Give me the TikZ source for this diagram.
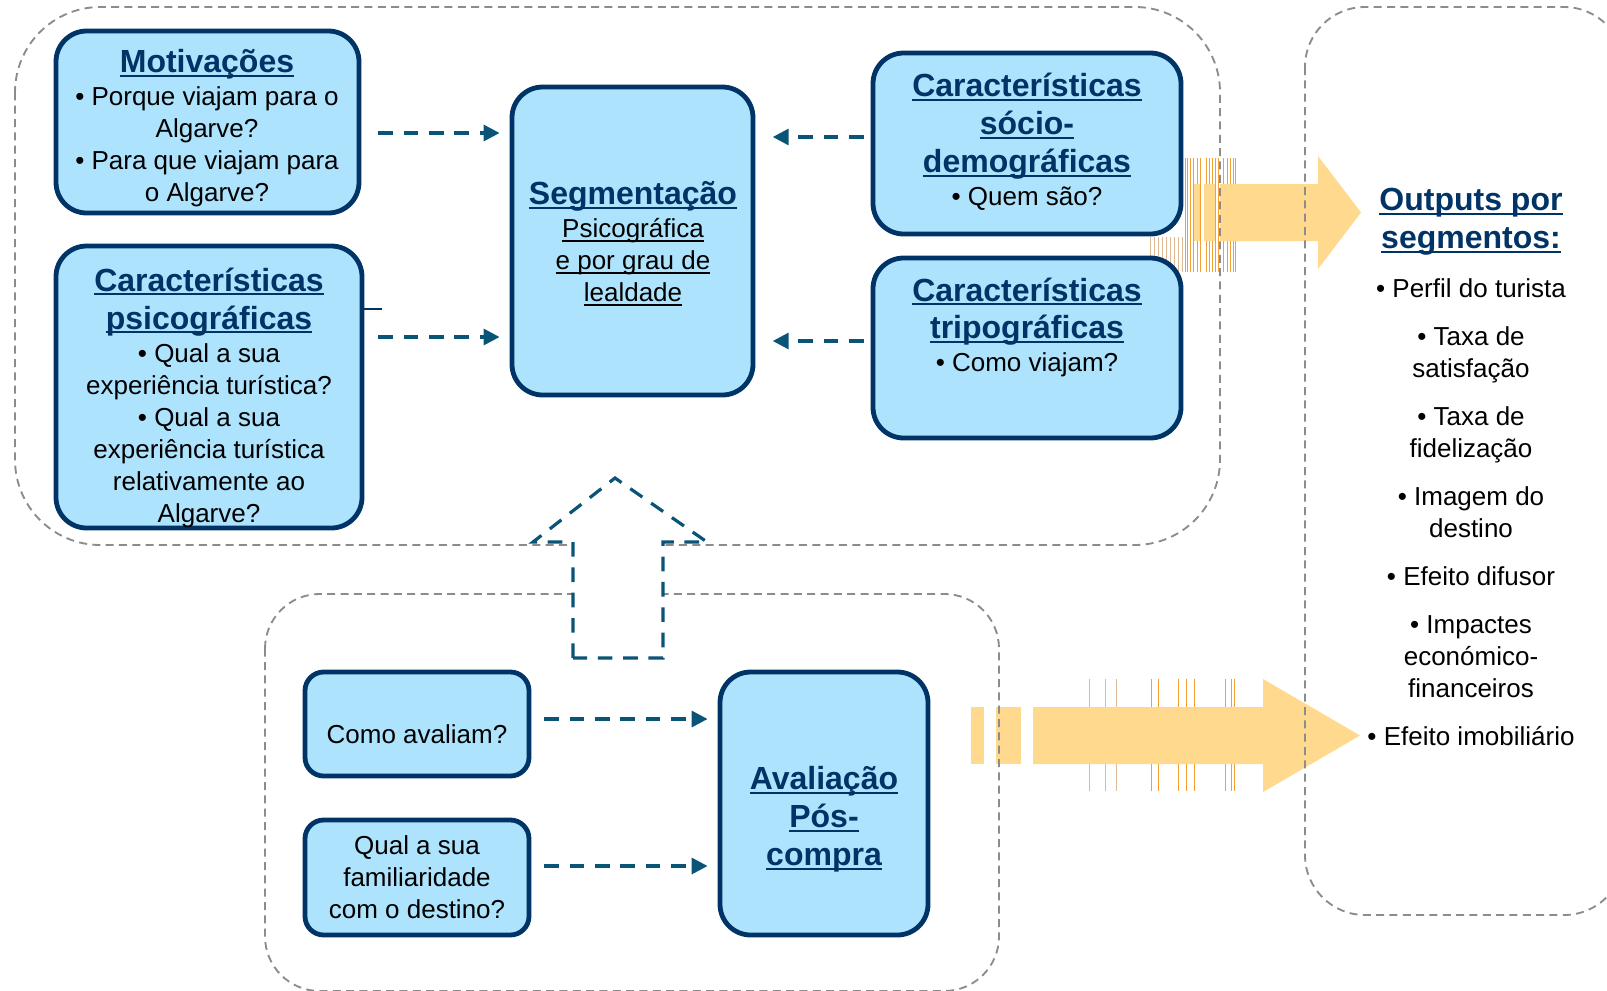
\documentclass[tikz,border=0pt]{standalone}
\usepackage{fontspec}
\setmainfont{Liberation Sans}
\usetikzlibrary{arrows.meta,calc}

\definecolor{navy}{RGB}{0,51,102}
\definecolor{boxfill}{RGB}{173,227,252}
\definecolor{flow}{RGB}{10,84,120}
\definecolor{frame}{RGB}{140,140,140}
\definecolor{bigarrow}{RGB}{254,217,142}
\definecolor{streak}{RGB}{245,160,50}
\definecolor{streaklight}{RGB}{222,185,150}

% underline drawn as a rule under the word, thickness as optional argument
\newcommand\ulx[2][1.5pt]{\setbox0=\hbox{#2}\rlap{\rule[-3.3pt]{\wd0}{#1}}\box0}
\newcommand\ttl[1]{{\fontsize{24}{28.5}\selectfont\bfseries\color{navy}\ulx{#1}}}
\newcommand\uls[1]{\ulx[0.9pt]{#1}}

\begin{document}
\begin{tikzpicture}[x=0.75pt, y=-0.75pt,
  box/.style={draw=navy, line width=3.6pt, fill=boxfill, rounded corners=23pt, inner sep=0pt},
  smallbox/.style={box, rounded corners=14pt},
  txt/.style={align=center, font=\fontsize{19.5}{24}\selectfont, inner sep=0pt},
  conn/.style={draw=flow, line width=2.4pt, dash pattern=on 11pt off 8pt,
    -{Triangle[length=12pt,width=12pt]}, shorten >=7.5pt},
  connlong/.style={conn, shorten >=13pt},
  group/.style={draw=frame, line width=1.4pt, dash pattern=on 6pt off 4pt},
  streakline/.style={draw=streak, line width=0.6pt},
  streakpale/.style={draw=streaklight, line width=0.6pt}]

\path[use as bounding box] (0,0) rectangle (1607,990);
\clip (0,0) rectangle (1607,990);

% streaks around the wide arrows
\foreach \x in {1185,1187.5,1190,1193,1197,1200,1206,1209,1212,1215,1218,1223,1227,1230,1233,1235}
  \draw[streakline] (\x,158) -- (\x,272);
\foreach \x in {1150,1154,1158,1162,1166,1170,1174,1178,1182}
  \draw[streakpale] (\x,237) -- (\x,272);
\foreach \x in {1089,1105,1116}
  \draw[streakpale] (\x,679) -- (\x,791);
\foreach \x in {1151,1158,1178,1186,1194,1225,1231,1234}
  \draw[streakline] (\x,679) -- (\x,791);

% wide yellow arrow towards the outputs (top)
\fill[bigarrow] (1194,184) rectangle (1200,241);
\fill[bigarrow] (1204,184) rectangle (1215,241);
\fill[bigarrow] (1220,184) -- (1318,184) -- (1318,156) -- (1361,212.5)
  -- (1318,269) -- (1318,241) -- (1220,241) -- cycle;

% wide yellow arrow towards the outputs (bottom)
\fill[bigarrow] (971,707) rectangle (984,764);
\fill[bigarrow] (996,707) rectangle (1021,764);
\fill[bigarrow] (1033,707) -- (1263,707) -- (1263,679) -- (1360,735.5)
  -- (1263,792) -- (1263,764) -- (1033,764) -- cycle;

% dashed group frames
\draw[group, rounded corners=64pt] (15,7) rectangle (1220,545);
\draw[group, rounded corners=45pt] (1305,7) rectangle (1624,915);
\draw[group, rounded corners=41pt] (265,594) rectangle (999,991);

% dashed block arrow from the evaluation group up to segmentation
\draw[flow, line width=2.4pt, dash pattern=on 11pt off 8pt, fill=white]
  (573,658) -- (573,542) -- (533,542) -- (615,478) -- (707,542)
  -- (663,542) -- (663,658) -- cycle;

% boxes
\node[box, minimum width=227.25pt, minimum height=136.5pt] (motiv) at (207.5,122) {};
\node[box, minimum width=229.5pt, minimum height=211.5pt] (psico) at (209,387) {};
\node[box, minimum width=180.75pt, minimum height=231pt] (seg) at (632.5,241) {};
\node[box, minimum width=231pt, minimum height=135.75pt] (socio) at (1027,143.5) {};
\node[box, minimum width=231pt, minimum height=135pt] (tripo) at (1027,348) {};
\node[smallbox, minimum width=168pt, minimum height=78pt] (como) at (417,724) {};
\node[smallbox, minimum width=168pt, minimum height=86.25pt] (qual) at (417,877.5) {};
\node[box, minimum width=156pt, minimum height=197.25pt] (aval) at (824,803.5) {};

\draw[navy, line width=0.8pt] (364,309) -- (382,309);

% box texts
\node[txt] (motiv-t) at (207,128) {\ttl{Motivações}\\[0.5pt] • Porque viajam para o\\ Algarve?\\ • Para que viajam para\\ o Algarve?};
\node[txt] (psico-t) at (209,397.5) {\ttl{Características}\\[4.5pt] \ttl{psicográficas}\\[0.7pt] • Qual a sua\\ experiência turística?\\ • Qual a sua\\ experiência turística\\ relativamente ao\\ Algarve?};
\node[txt] (seg-t) at (633,243.5) {\ttl{Segmentação}\\[0.5pt] \uls{Psicográfica}\\ \uls{e por grau de}\\ \uls{lealdade}};
\node[txt] (socio-t) at (1027,141.5) {\ttl{Características}\\[4.5pt] \ttl{sócio-}\\[4.5pt] \ttl{demográficas}\\[0.5pt] • Quem são?};
\node[txt] (tripo-t) at (1027,327) {\ttl{Características}\\[4pt] \ttl{tripográficas}\\[0.5pt] • Como viajam?};
\node[txt] (como-t) at (417,734) {Como avaliam?};
\node[txt] (qual-t) at (417,877) {Qual a sua\\ familiaridade\\ com o destino?};
\node[txt] (aval-t) at (824,819) {\ttl{Avaliação}\\[4.5pt] \ttl{Pós-}\\[4.5pt] \ttl{compra}};

% outputs list
\node[txt] (outputs) at (1471,467) {\ttl{Outputs por}\\[4.5pt] \ttl{segmentos:}\\[13pt]
  • Perfil do turista\\[12pt] • Taxa de\\ satisfação\\[12pt] • Taxa de\\ fidelização\\[12pt]
  • Imagem do\\ destino\\[12pt] • Efeito difusor\\[12pt] • Impactes\\ económico-\\ financeiros\\[12pt]
  • Efeito imobiliário};

% connectors
\coordinate (c1) at ([shift={(17,11)}]motiv.east);
\coordinate (c2) at ([shift={(14,-50)}]psico.east);
\coordinate (c3) at ([shift={(-7,-6.5)}]socio.west);
\coordinate (c4) at ([shift={(-7,-7)}]tripo.west);
\coordinate (c5) at ([shift={(13,-5)}]como.east);
\coordinate (c6) at ([shift={(13,-11.5)}]qual.east);
\draw[conn] (c1) -- (c1 -| seg.west);
\draw[conn] (c2) -- (c2 -| seg.west);
\draw[connlong] (c3) -- (c3 -| seg.east);
\draw[connlong] (c4) -- (c4 -| seg.east);
\draw[conn] (c5) -- (c5 -| aval.west);
\draw[conn] (c6) -- (c6 -| aval.west);
\end{tikzpicture}
\end{document}
